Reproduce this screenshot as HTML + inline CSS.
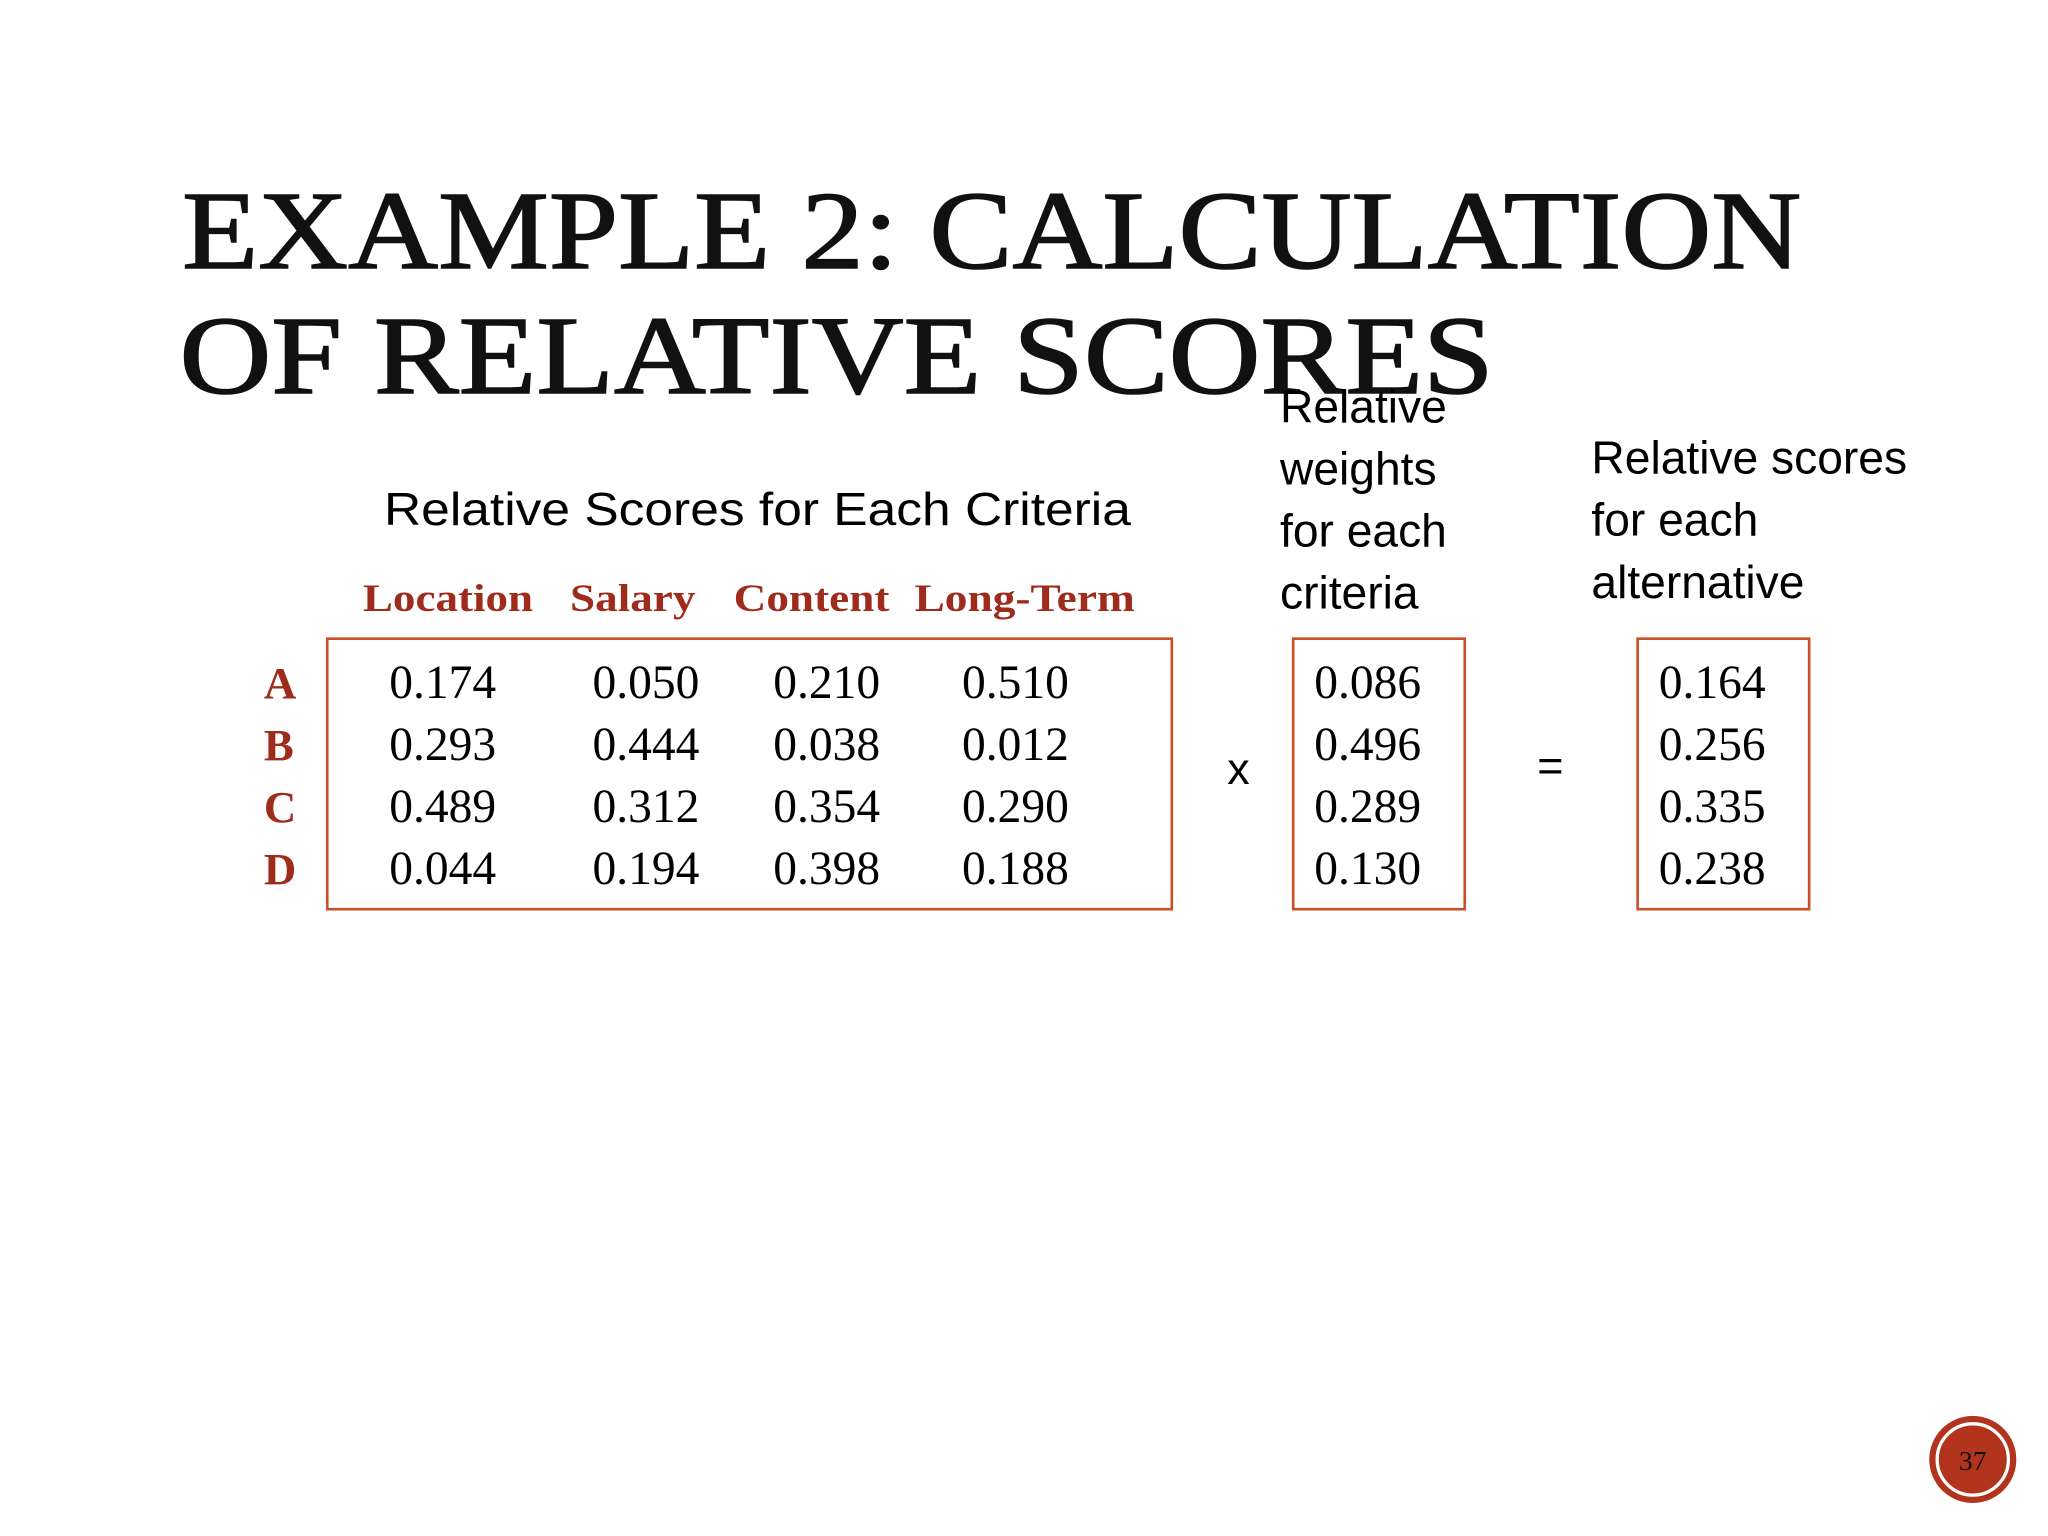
<!DOCTYPE html>
<html><head><meta charset="utf-8"><style>
html,body{margin:0;padding:0;background:#fff;}
svg{display:block;}
.t{font-family:"Liberation Serif",serif;fill:#111;stroke:#111;stroke-width:1.2;}
.s{font-family:"Liberation Sans",sans-serif;fill:#000;}
.r{font-family:"Liberation Serif",serif;font-weight:bold;fill:#9e2b1c;}
.n{font-family:"Liberation Serif",serif;fill:#000;font-size:36px;}
</style></head><body>
<svg width="2048" height="1536" viewBox="0 0 1552 1164" xmlns="http://www.w3.org/2000/svg">
<text class="t" x="138" y="203" font-size="84" textLength="1227" lengthAdjust="spacingAndGlyphs">EXAMPLE 2: CALCULATION</text>
<text class="t" x="136" y="298" font-size="84" textLength="996" lengthAdjust="spacingAndGlyphs">OF RELATIVE SCORES</text>
<text class="s" x="291" y="398" font-size="35" textLength="566" lengthAdjust="spacingAndGlyphs">Relative Scores for Each Criteria</text>
<g class="s" font-size="35">
<text x="970" y="320">Relative</text><text x="970" y="367">weights</text><text x="970" y="414">for each</text><text x="970" y="461">criteria</text>
</g>
<g class="s" font-size="35">
<text x="1206" y="359">Relative scores</text><text x="1206" y="406">for each</text><text x="1206" y="453">alternative</text>
</g>
<g id="hdr"></g>
<g id="rows"></g>
<rect x="248" y="484" width="640" height="205" fill="none" stroke="#c8502a" stroke-width="2"/>
<rect x="980" y="484" width="130" height="205" fill="none" stroke="#c8502a" stroke-width="2"/>
<rect x="1241" y="484" width="130" height="205" fill="none" stroke="#c8502a" stroke-width="2"/>
<g id="cells"></g>
<text class="s" x="930" y="594" font-size="34">x</text>
<text class="s" x="1165" y="592" font-size="34">=</text>
<g>
<circle cx="1495" cy="1106" r="33" fill="#b3341c"/>
<circle cx="1495" cy="1106" r="27" fill="none" stroke="#fff" stroke-width="2.5"/>
<text x="1495" y="1114" text-anchor="middle" font-family="Liberation Serif,serif" font-size="21" fill="#111">37</text>
</g>
</svg>
<script>
const criteria=["Location","Salary","Content","Long-Term"];
const alternatives=["A","B","C","D"];
const scores=[["0.174","0.050","0.210","0.510"],["0.293","0.444","0.038","0.012"],["0.489","0.312","0.354","0.290"],["0.044","0.194","0.398","0.188"]];
const weights=["0.086","0.496","0.289","0.130"];
const results=["0.164","0.256","0.335","0.238"];
const NS="http://www.w3.org/2000/svg";
const hx=[275,432,556,693], hw=[129,95,118,167], cx=[295,449,586,729];
const rowY=i=>529+i*47;
function mk(parent,cls,x,y,txt,fs){const t=document.createElementNS(NS,"text");t.setAttribute("class",cls);t.setAttribute("x",x);t.setAttribute("y",y);if(fs)t.setAttribute("font-size",fs);t.textContent=txt;parent.appendChild(t);return t;}
const hdr=document.getElementById("hdr");
criteria.forEach((c,i)=>{const t=mk(hdr,"r",hx[i],463,c,30);t.setAttribute("textLength",hw[i]);t.setAttribute("lengthAdjust","spacingAndGlyphs");

});
const rows=document.getElementById("rows");
alternatives.forEach((a,i)=>{const t=mk(rows,"r",200,rowY(i),a,34);

});
const cells=document.getElementById("cells");
scores.forEach((r,i)=>r.forEach((v,j)=>{const t=mk(cells,"n",cx[j],rowY(i),v);

}));
weights.forEach((v,i)=>{const t=mk(cells,"n",996,rowY(i),v);

});
results.forEach((v,i)=>{const t=mk(cells,"n",1257,rowY(i),v);

});
</script>
</body></html>
